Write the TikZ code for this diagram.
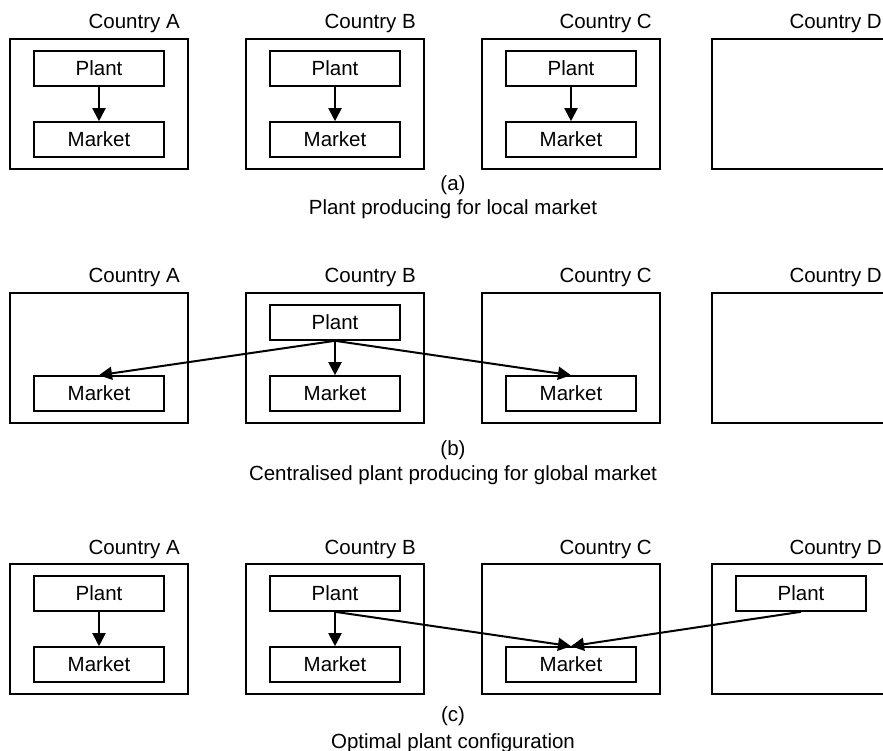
\documentclass[tikz,border=0pt]{standalone}
\usepackage{fontspec}
\setmainfont{Liberation Sans}
\usetikzlibrary{arrows.meta}
\begin{document}
\begin{tikzpicture}[x=1pt,y=-1pt,
  font=\fontsize{20.5}{24}\selectfont,
  country/.style={draw, line width=1.6pt, minimum width=178pt, minimum height=130pt, inner sep=0pt},
  unit/.style={draw, line width=1.6pt, minimum width=130pt, minimum height=35pt, inner sep=0pt, fill=white},
  clabel/.style={anchor=base east, inner sep=0pt},
  caption/.style={anchor=base, inner sep=0pt},
  flow/.style={line width=2pt, -{Triangle[length=13pt,width=13pt]}}]
\clip (0,0) rectangle (883,751);

% ---------- (a) plant producing for local market ----------
\node[country] (aA) at (99,104) {};
\node[country] (aB) at (335,104) {};
\node[country] (aC) at (571,104) {};
\node[country] (aD) at (801,104) {};
\node[clabel] (aAl) at (180,29) {Country A};
\node[clabel] (aBl) at (416,29) {Country B};
\node[clabel] (aCl) at (652,29) {Country C};
\node[clabel] (aDl) at (882,29) {Country D};
\node[unit] (aPA) at (99,68.5) {Plant};
\node[unit] (aMA) at (99,139.5) {Market};
\node[unit] (aPB) at (335,68.5) {Plant};
\node[unit] (aMB) at (335,139.5) {Market};
\node[unit] (aPC) at (571,68.5) {Plant};
\node[unit] (aMC) at (571,139.5) {Market};
\draw[flow] (aPA) -- (aMA);
\draw[flow] (aPB) -- (aMB);
\draw[flow] (aPC) -- (aMC);
\node[caption] (aCap) at (453,191) {(a)};
\node[caption] (aSub) at (453,215) {Plant producing for local market};

% ---------- (b) centralised plant producing for global market ----------
\node[country] (bA) at (99,358) {};
\node[country] (bB) at (335,358) {};
\node[country] (bC) at (571,358) {};
\node[country] (bD) at (801,358) {};
\node[clabel] (bAl) at (180,283) {Country A};
\node[clabel] (bBl) at (416,283) {Country B};
\node[clabel] (bCl) at (652,283) {Country C};
\node[clabel] (bDl) at (882,283) {Country D};
\node[unit] (bPB) at (335,322.5) {Plant};
\node[unit] (bMA) at (99,393.5) {Market};
\node[unit] (bMB) at (335,393.5) {Market};
\node[unit] (bMC) at (571,393.5) {Market};
\draw[flow] (bPB.south) -- (bMA.north);
\draw[flow] (bPB.south) -- (bMB.north);
\draw[flow] (bPB.south) -- (bMC.north);
\node[caption] (bCap) at (453,455) {(b)};
\node[caption] (bSub) at (453,480) {Centralised plant producing for global market};

% ---------- (c) optimal plant configuration ----------
\node[country] (cA) at (99,629) {};
\node[country] (cB) at (335,629) {};
\node[country] (cC) at (571,629) {};
\node[country] (cD) at (801,629) {};
\node[clabel] (cAl) at (180,554) {Country A};
\node[clabel] (cBl) at (416,554) {Country B};
\node[clabel] (cCl) at (652,554) {Country C};
\node[clabel] (cDl) at (882,554) {Country D};
\node[unit] (cPA) at (99,593.5) {Plant};
\node[unit] (cMA) at (99,664.5) {Market};
\node[unit] (cPB) at (335,593.5) {Plant};
\node[unit] (cMB) at (335,664.5) {Market};
\node[unit] (cMC) at (571,664.5) {Market};
\node[unit] (cPD) at (801,593.5) {Plant};
\draw[flow] (cPA) -- (cMA);
\draw[flow] (cPB) -- (cMB);
\draw[flow] (cPB.south) -- (cMC.north);
\draw[flow] (cPD.south) -- (cMC.north);
\node[caption] (cCap) at (453,721) {(c)};
\node[caption] (cSub) at (453,748) {Optimal plant configuration};
\end{tikzpicture}
\end{document}
